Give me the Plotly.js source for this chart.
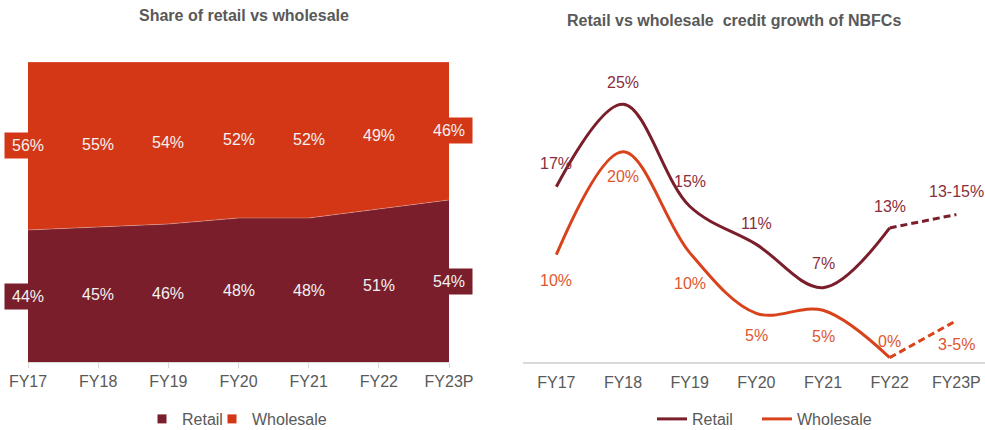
<!DOCTYPE html>
<html><head><meta charset="utf-8">
<script src="https://cdn.plot.ly/plotly-3.0.1.min.js"></script>
<style>html,body{margin:0;padding:0;background:#fff;}#chart{width:985px;height:430px;}</style>
</head><body><div id="chart"></div>
<script>
// ---- data ----
const years = ['FY17','FY18','FY19','FY20','FY21','FY22','FY23P'];
const shareRetail = [44,45,46,48,48,51,54];
const shareWholesale = [56,55,54,52,52,49,46];
const growthRetail = [16.6,24.6,14.7,11.0,6.8,12.6,13.9];
const growthWholesale = [10.0,20.0,10.2,4.3,4.6,0.0,3.6];
const growthRetailLabels = ['17%','25%','15%','11%','7%','13%','13-15%'];
const growthWholesaleLabels = ['10%','20%','10%','5%','5%','0%','3-5%'];
const lastActual = 5; // FY22: projection starts here

// ---- style ----
const FONT = 'Liberation Sans, Arial, sans-serif';
const C_RET = '#7A1E2B', C_WHO = '#D43716';
const C_RET_LINE = '#7A1E2B', C_WHO_LINE = '#D9431C';
const C_RET_TXT = '#8A2D3B', C_WHO_TXT = '#E0562F';
const GREY = '#595959';
const W = 985, H = 430, MB = 50, PH = H - MB;
const py = px => (PH - px) / PH;   // pixel row -> paper y
const yDom = [py(362), py(62)];

const traces = [
  {x: years, y: shareRetail, name: 'Retail', type: 'scatter', mode: 'lines', stackgroup: 'share',
   fillcolor: C_RET, line: {width: 0.8, color: 'rgba(255,255,255,0.35)'}, showlegend: false,
   xaxis: 'x', yaxis: 'y', hoverinfo: 'skip'},
  {x: years, y: shareWholesale, name: 'Wholesale', type: 'scatter', mode: 'lines', stackgroup: 'share',
   fillcolor: C_WHO, line: {width: 0.8, color: 'rgba(255,255,255,0.35)'}, showlegend: false,
   xaxis: 'x', yaxis: 'y', hoverinfo: 'skip'},
  {x: [null], y: [null], name: 'Retail', type: 'scatter', mode: 'markers',
   marker: {symbol: 'square', size: 9, color: C_RET}, legend: 'legend', xaxis: 'x', yaxis: 'y'},
  {x: [null], y: [null], name: 'Wholesale', type: 'scatter', mode: 'markers',
   marker: {symbol: 'square', size: 9, color: C_WHO}, legend: 'legend2', xaxis: 'x', yaxis: 'y'},
  {x: years.slice(0, lastActual+1), y: growthRetail.slice(0, lastActual+1), name: 'Retail', type: 'scatter',
   mode: 'lines', line: {color: C_RET_LINE, width: 3, shape: 'spline', smoothing: 1}, legend: 'legend3',
   xaxis: 'x2', yaxis: 'y2', hoverinfo: 'skip'},
  {x: years.slice(lastActual), y: growthRetail.slice(lastActual), name: 'Retail', type: 'scatter',
   mode: 'lines', line: {color: C_RET_LINE, width: 3, dash: '7px,4px'}, showlegend: false,
   xaxis: 'x2', yaxis: 'y2', hoverinfo: 'skip'},
  {x: years.slice(0, lastActual+1), y: growthWholesale.slice(0, lastActual+1), name: 'Wholesale', type: 'scatter',
   mode: 'lines', line: {color: C_WHO_LINE, width: 3, shape: 'spline', smoothing: 1}, legend: 'legend4',
   xaxis: 'x2', yaxis: 'y2', hoverinfo: 'skip'},
  {x: years.slice(lastActual), y: growthWholesale.slice(lastActual), name: 'Wholesale', type: 'scatter',
   mode: 'lines', line: {color: C_WHO_LINE, width: 3, dash: '7px,4px'}, showlegend: false,
   xaxis: 'x2', yaxis: 'y2', hoverinfo: 'skip'}
];

const ann = [];
const lastIdx = years.length - 1;
years.forEach((yr, i) => {
  const edge = (i === 0 || i === lastIdx);
  ann.push({x: yr, y: shareRetail[i]/2, xref: 'x', yref: 'y', text: shareRetail[i] + '%', showarrow: false,
    font: {family: FONT, size: 16, color: '#F2F2F2'}, bgcolor: edge ? C_RET : 'rgba(0,0,0,0)',
    width: edge ? 46 : null, height: edge ? 25 : null, borderpad: 0});
  ann.push({x: yr, y: shareRetail[i] + shareWholesale[i]/2, xref: 'x', yref: 'y', text: shareWholesale[i] + '%', showarrow: false,
    font: {family: FONT, size: 16, color: '#F2F2F2'}, bgcolor: edge ? C_WHO : 'rgba(0,0,0,0)',
    width: edge ? 46 : null, height: edge ? 25 : null, borderpad: 0});
});
const retShift = [23, 22, 25, 21, 24, 21, 23];
const whoShift = [-26, -25, -31, -22, -26, 16, -24];
years.forEach((yr, i) => {
  ann.push({x: yr, y: growthRetail[i], xref: 'x2', yref: 'y2', yshift: retShift[i], text: growthRetailLabels[i],
    showarrow: false, font: {family: FONT, size: 16, color: C_RET_TXT}});
  ann.push({x: yr, y: growthWholesale[i], xref: 'x2', yref: 'y2', yshift: whoShift[i], text: growthWholesaleLabels[i],
    showarrow: false, font: {family: FONT, size: 16, color: C_WHO_TXT}});
});
ann.push({x: 244/W, y: py(15.5), xref: 'paper', yref: 'paper', text: '<b>Share of retail vs wholesale</b>',
  showarrow: false, xanchor: 'center', yanchor: 'middle', font: {family: FONT, size: 16, color: GREY}});
ann.push({x: 734/W, y: py(20), xref: 'paper', yref: 'paper', text: '<b>Retail vs wholesale\u00a0 credit growth of NBFCs</b>',
  showarrow: false, xanchor: 'center', yanchor: 'middle', font: {family: FONT, size: 16, color: GREY}});

const leg = x => ({orientation: 'h', x: x/W, xanchor: 'left', y: py(419), yanchor: 'middle',
  font: {family: FONT, size: 16, color: GREY}, bgcolor: 'rgba(0,0,0,0)', borderwidth: 0,
  itemclick: false, itemdoubleclick: false});

const layout = {
  width: W, height: H, margin: {l: 0, r: 0, t: 0, b: MB, autoexpand: false},
  paper_bgcolor: '#fff', plot_bgcolor: 'rgba(0,0,0,0)', hovermode: false,
  font: {family: FONT, color: GREY},
  xaxis: {domain: [28/W, 449/W], type: 'category', range: [0, 6], showline: true, linecolor: '#D9D9D9', linewidth: 1,
    ticks: 'outside', ticklen: 5, tickcolor: '#D9D9D9', tickfont: {family: FONT, size: 16, color: GREY},
    showgrid: false, zeroline: false, anchor: 'y', fixedrange: true},
  yaxis: {domain: yDom, range: [0, 100], visible: false, fixedrange: true},
  xaxis2: {domain: [523/W, 1], type: 'category', range: [-0.5, 6.43], showline: true, linecolor: '#D9D9D9', linewidth: 1.5,
    ticks: 'outside', ticklen: 5, tickcolor: 'rgba(0,0,0,0)', tickfont: {family: FONT, size: 16, color: GREY},
    showgrid: false, zeroline: false, anchor: 'y2', fixedrange: true},
  yaxis2: {domain: yDom, range: [-0.42, 28.71], visible: false, fixedrange: true},
  legend: leg(142), legend2: leg(212), legend3: leg(652), legend4: leg(757),
  annotations: ann
};
Plotly.newPlot('chart', traces, layout, {displayModeBar: false, staticPlot: true});
</script></body></html>
